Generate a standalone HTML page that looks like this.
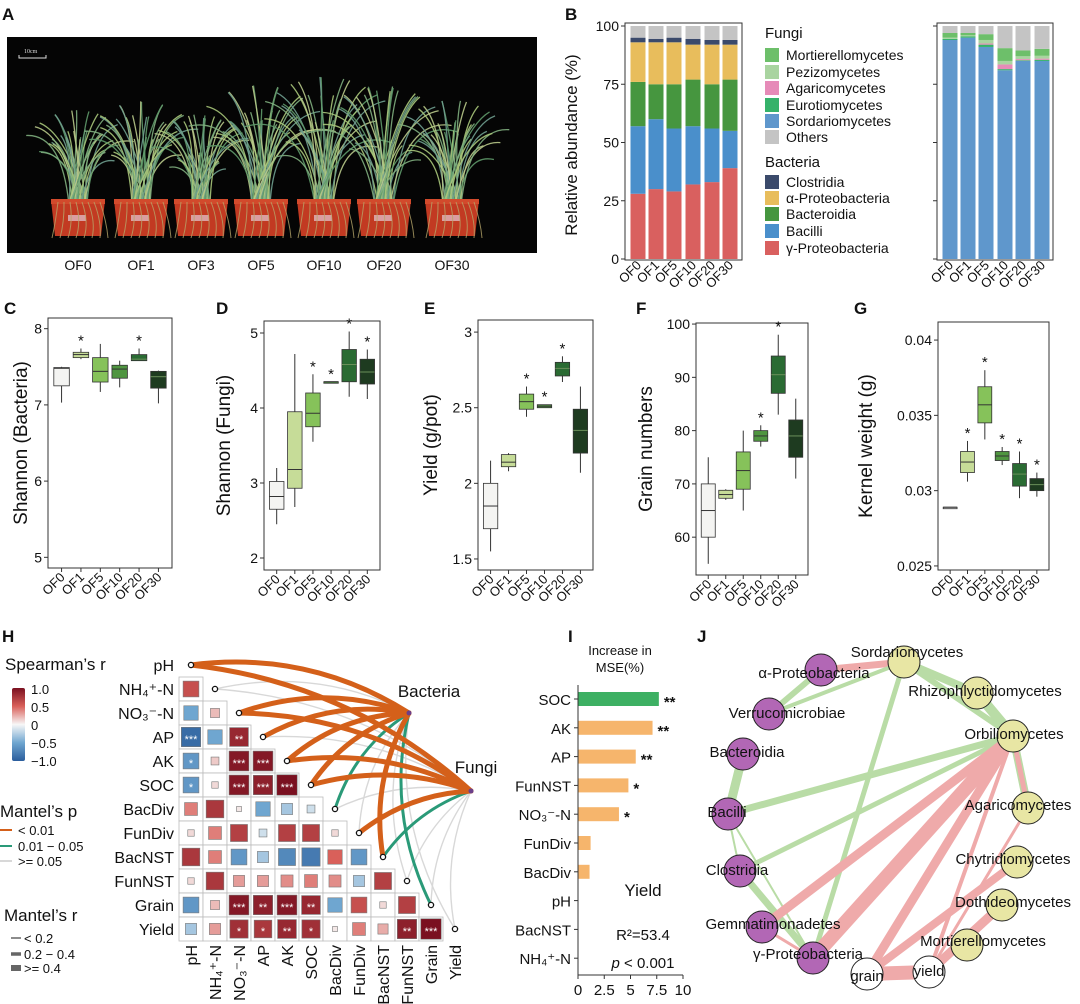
<!DOCTYPE html>
<html><head><meta charset="utf-8">
<style>
html,body{margin:0;padding:0;background:#fff;}
svg{display:block;font-family:"Liberation Sans",Arial,sans-serif;}
</style></head>
<body>
<svg id="fig" width="1080" height="1004" viewBox="0 0 1080 1004" xmlns="http://www.w3.org/2000/svg">
<defs>
<linearGradient id="rdbu" x1="0" y1="1" x2="0" y2="0">
<stop offset="0" stop-color="#2a5d9c"/><stop offset="0.25" stop-color="#6fa6d0"/><stop offset="0.5" stop-color="#f7f7f7"/><stop offset="0.75" stop-color="#d9605a"/><stop offset="1" stop-color="#7a1020"/>
</linearGradient>
</defs>
</svg>
<script>
// ---------- DATA ----------
const groupsB=['OF0','OF1','OF5','OF10','OF20','OF30'];
const bacGamma=[28,30,29,32,33,39];
const bacBacilli=[29,30,27,25,23,16];
const bacBacteroidia=[19,15,19,20,19,22];
const bacAlpha=[17,18,18,15,17,15];
const bacClost=[2,1.5,2,2.5,2,2];
const fungSord=[94,95,91,81,85,85];
const fungEuro=[0.5,0.5,1,0.5,0.3,0.5];
const fungAgar=[0,0,0.5,2,0.5,0.5];
const fungPezi=[0.5,0.5,1.5,1.5,1.2,1.2];
const fungMort=[2,1,2.5,5.5,2.5,3];
const yTicksB=[0,25,50,75,100];

// box stats: [whiskerLow, q1, median, q3, whiskerHigh]
const shannonBac=[[7.03,7.25,7.48,7.49,7.5],[7.6,7.62,7.66,7.69,7.74],[7.17,7.3,7.44,7.62,7.8],[7.23,7.35,7.47,7.52,7.58],[7.58,7.58,7.6,7.66,7.74],[7.02,7.22,7.37,7.44,7.45]];
const shannonBacStars=['','*','','','*',''];
const shannonFun=[[2.45,2.65,2.82,3.02,3.2],[2.68,2.93,3.18,3.95,4.72],[3.55,3.75,3.93,4.2,4.45],[4.35,4.35,4.35,4.35,4.35],[4.15,4.35,4.58,4.78,5.02],[4.12,4.32,4.48,4.65,4.78]];
const shannonFunStars=['','','*','*','*','*'];
const yieldBox=[[1.55,1.7,1.85,2.0,2.15],[2.08,2.11,2.14,2.19,2.2],[2.44,2.49,2.54,2.59,2.64],[2.5,2.5,2.51,2.52,2.52],[2.67,2.71,2.76,2.8,2.84],[2.07,2.2,2.35,2.49,2.64]];
const yieldStars=['','','*','*','*',''];
const grainBox=[[55,60,65,70,75],[67,67.3,68,68.8,69],[65,69,72.5,76,80],[77,78,79,80,81],[83,87,90.5,94,98],[71,75,79,82,86]];
const grainStars=['','','','*','*',''];
const kernelBox=[[0.0289,0.0289,0.0289,0.0289,0.0289],[0.0306,0.0312,0.0319,0.0326,0.0333],[0.0334,0.0345,0.0357,0.0369,0.038],[0.0317,0.032,0.0323,0.0326,0.0329],[0.0295,0.0303,0.0311,0.0318,0.0326],[0.0296,0.03,0.0304,0.0308,0.0312]];
const kernelStars=['','*','*','*','*','*'];
const ticksC=[5,6,7,8], ticksD=[2,3,4,5], ticksE=[1.5,2,2.5,3], ticksF=[60,70,80,90,100], ticksG=[0.025,0.03,0.035,0.04];

const hVars=['pH','NH₄⁺-N','NO₃⁻-N','AP','AK','SOC','BacDiv','FunDiv','BacNST','FunNST','Grain','Yield'];
const hCorr=[[],[0.6],[-0.5,0.2],[-0.9,-0.5,0.85],[-0.6,0.15,0.95,0.95],[-0.6,0.1,0.95,0.9,1.0],
[0.4,0.75,0.05,-0.5,-0.3,-0.15],[0.1,0.4,0.7,-0.15,0.7,0.7,0.1],[0.75,0.4,-0.6,-0.3,-0.7,-0.8,0.5,-0.6],
[0.1,0.75,0.3,0.3,0.35,0.4,0.35,-0.3,0.7],[-0.6,0.2,0.95,0.9,0.95,0.85,-0.5,0.6,0.1,0.7],[-0.3,0.3,0.8,0.75,0.85,0.8,0.05,0.4,0.25,0.9,1.0]];
const hStars=[[],[''],['',''],['***','','**'],['*','','***','***'],['*','','***','***','***'],
['','','','','','',''],['','','','','','','',''],['','','','','','','','',''],['','','','','','','','','',''],
['','','***','**','***','**','','','',''],['','','*','*','**','*','','','','**','***']];
const mantelBacP=[0,2,0,0,0,0,1,2,0,2,1,2];
const mantelBacR=[2,0,2,2,2,2,1,0,2,0,1,0];
const mantelFunP=[0,2,0,2,0,0,2,0,1,2,2,2];
const mantelFunR=[2,0,2,0,2,2,0,2,1,0,0,0];

const rfVars=['SOC','AK','AP','FunNST','NO₃⁻-N','FunDiv','BacDiv','pH','BacNST','NH₄⁺-N'];
const rfValues=[7.7,7.1,5.5,4.8,3.9,1.2,1.1,0,0,0];
const rfStars=['**','**','**','*','*','','','','',''];
const rfTicks=[0,2.5,5,7.5,10];

const netNodes=['Sordariomycetes','α-Proteobacteria','Rhizophlyctidomycetes','Verrucomicrobiae','Orbiliomycetes','Bacteroidia','Bacilli','Agaricomycetes','Chytridiomycetes','Clostridia','Dothideomycetes','Gemmatimonadetes','Mortierellomycetes','γ-Proteobacteria','grain','yield'];
const netTypes=['f','b','f','b','f','b','b','f','f','b','f','b','f','b','y','y'];
const netEdges=[[1,0,7,'p'],[0,2,8,'g'],[2,4,10,'g'],[0,4,6,'g'],[3,1,6,'g'],[3,0,4,'g'],[0,13,5,'g'],[4,6,7,'g'],[4,9,5,'g'],[5,6,9,'g'],[6,9,2,'g'],[9,13,7,'g'],[6,13,2,'g'],[4,7,8,'g'],
[4,11,9,'p'],[4,13,14,'p'],[4,14,9,'p'],[4,15,4,'p'],[4,7,5,'p'],[8,14,8,'p'],[10,15,9,'p'],[14,15,14,'p'],[7,15,3,'p'],[11,13,3,'p']];

// ---------- LAYOUT ----------
const svg=document.getElementById('fig');
const NS='http://www.w3.org/2000/svg';
function mk(tag,attrs,parent){const e=document.createElementNS(NS,tag);for(const k in attrs)e.setAttribute(k,attrs[k]);(parent||svg).appendChild(e);return e;}
function tx(s,x,y,attrs,parent){const e=mk('text',Object.assign({x:x,y:y,fill:'#111'},attrs||{}),parent);e.textContent=s;return e;}
const FILL6=['#f4f4f2','#c6dc98','#86c25a','#4f9540','#2a6b33','#1e3b20'];
let el;

[['A',2,20],['B',565,20],['C',4,314],['D',216,314],['E',424,314],['F',636,314],['G',854,314],['H',2,642],['I',568,642],['J',697,642]].forEach(p=>{
 el=tx(p[0],p[1],p[2],{'font-size':17,'font-weight':'bold'});
 
 
});

// ---------- Panel A ----------
const gA=mk('g',{});


mk('rect',{x:7,y:37,width:530,height:216,fill:'#050505'},gA);
mk('path',{d:'M19 55 v3 h27 v-3',stroke:'#ddd',fill:'none','stroke-width':1},gA);
tx('10cm',24,53,{'font-size':6,fill:'#ddd','font-family':'Liberation Serif, serif'},gA);
const potX=[78,141,201,261,324,384,452];
const potH=[150,160,150,175,185,180,160];
const potLabels=['OF0','OF1','OF3','OF5','OF10','OF20','OF30'];
potX.forEach((cx,i)=>{
 for(let k=0;k<36;k++){
  const a=(k/35-0.5)*1.5+Math.sin(k*7.3+i)*0.2;
  const h=(potH[i]-55)*(0.5+0.5*Math.abs(Math.cos(k*2.1+i*0.7)));
  const ex=cx+Math.sin(a)*h*0.8, ey=205-Math.cos(a)*h;
  const c=['#7fae7e','#a9c77a','#6f9f8f','#b8c98a','#5f9a6a'][(k+i)%5];
  mk('path',{d:`M${cx+(k%7-3)*3} 205 Q${cx+Math.sin(a)*h*0.25} ${205-h*0.75} ${ex} ${ey}`,stroke:c,'stroke-width':1.3,fill:'none',opacity:0.9},gA);
 }
 mk('path',{d:`M${cx-27} 200 h54 l-4 36 h-46 z`,fill:'#c23a22'},gA);
 mk('rect',{x:cx-27,y:199,width:54,height:5,fill:'#d24a2c'},gA);
 mk('rect',{x:cx-10,y:215,width:18,height:6,fill:'#e0b8c0',opacity:0.8},gA);
 for(let k=0;k<8;k++){const a=-0.3+k*0.35;mk('path',{d:`M${cx-20+k*6} 202 q${Math.sin(a)*8} 20 ${k*2-6} 36`,stroke:'#b6a66a','stroke-width':1,fill:'none',opacity:0.8},gA);}
 el=tx(potLabels[i],cx,270,{'font-size':14,'text-anchor':'middle'});
 
 
});

// ---------- Panel B ----------
function yB(v){return 259-(v/100)*233;}
function stackPlot(x0,x1,centers,layers,colors,name,labels){
 const g=mk('g',{});
 
 
 centers.forEach((cx,i)=>{
  let acc=0;
  layers.forEach((arr,li)=>{
   const v=(li===layers.length-1)?(100-acc):arr[i];
   const r=mk('rect',{x:cx-7.5,y:yB(acc+v),width:15,height:Math.max(0,yB(acc)-yB(acc+v)),fill:colors[li]},g);
   
   
   acc+=v;
  });
  const t=tx(groupsB[i],cx+4,266,{'font-size':13,'text-anchor':'end',transform:`rotate(-45 ${cx+4} 266)`},g);
  
  
 });
 mk('rect',{x:x0,y:23,width:x1-x0,height:237,fill:'none',stroke:'#333','stroke-width':1},g);
 yTicksB.forEach(v=>{
  mk('line',{x1:x0-4,x2:x0,y1:yB(v),y2:yB(v),stroke:'#333'},g);
  if(labels){const t=tx(String(v),x0-6,yB(v)+5,{'font-size':14,'text-anchor':'end'},g);
   
   }
 });
}
const bacOthers=bacGamma.map(()=>0);
stackPlot(625,742,[638,656,674,693,712,730],[bacGamma,bacBacilli,bacBacteroidia,bacAlpha,bacClost,bacOthers],['#d9605f','#4a8fcb','#46963f','#e8bd5c','#3b4a6b','#c4c4c4'],'bacteria-stacked-bars',true);
stackPlot(937,1053,[950,968,986,1005,1023,1042],[fungSord,fungEuro,fungAgar,fungPezi,fungMort,bacOthers],['#5f97cc','#35b26a','#e68bb8','#a9d4a0','#6dbf6a','#c4c4c4'],'fungi-stacked-bars',false);
el=tx('Relative abundance (%)',577,145,{'font-size':17,'text-anchor':'middle',transform:'rotate(-90 577 145)'});


const legItems=[['Fungi',33,null],['Mortierellomycetes',55,'#6dbf6a'],['Pezizomycetes',72,'#a9d4a0'],['Agaricomycetes',88,'#e68bb8'],['Eurotiomycetes',105,'#35b26a'],['Sordariomycetes',121,'#5f97cc'],['Others',137,'#c4c4c4'],
['Bacteria',162,null],['Clostridia',182,'#3b4a6b'],['α-Proteobacteria',198,'#e8bd5c'],['Bacteroidia',214,'#46963f'],['Bacilli',231,'#4a8fcb'],['γ-Proteobacteria',248,'#d9605f']];
legItems.forEach(l=>{
 if(l[2]){el=mk('rect',{x:765,y:l[1]-7,width:14,height:14,fill:l[2]});
  
  
  el=tx(l[0],786,l[1]+5,{'font-size':14});}
 else el=tx(l[0],765,l[1]+5,{'font-size':15});
 
 
});

// ---------- Boxplots C-G ----------
function boxPanel(cfg,data,stars,ticks,fmt){
 const g=mk('g',{});
 
 
 const ys=v=>cfg.y1-(v-cfg.d0)/(cfg.d1-cfg.d0)*(cfg.y1-cfg.y0);
 const w=cfg.x1-cfg.x0, sp=w/6.4;
 mk('rect',{x:cfg.x0,y:cfg.y0,width:w,height:cfg.y1-cfg.y0,fill:'none',stroke:'#333','stroke-width':1},g);
 ticks.forEach(v=>{
  mk('line',{x1:cfg.x0-4,x2:cfg.x0,y1:ys(v),y2:ys(v),stroke:'#333'},g);
  const t=tx(fmt(v),cfg.x0-6,ys(v)+5,{'font-size':14,'text-anchor':'end'},g);
  
  
 });
 data.forEach((d,i)=>{
  const cx=cfg.x0+sp*(0.7+i), bw=sp*0.8;
  mk('line',{x1:cx,x2:cx,y1:ys(d[0]),y2:ys(d[4]),stroke:'#333','stroke-width':1},g);
  const b=mk('rect',{x:cx-bw/2,y:ys(d[3]),width:bw,height:Math.max(1.5,ys(d[1])-ys(d[3])),fill:FILL6[i],stroke:'#333','stroke-width':0.8},g);
  
  
  mk('line',{x1:cx-bw/2,x2:cx+bw/2,y1:ys(d[2]),y2:ys(d[2]),stroke:i>3?'#6a8f5a':'#333','stroke-width':1},g);
  if(stars[i]){const s=tx(stars[i],cx,ys(d[4])-3,{'font-size':15,'text-anchor':'middle'},g);
   
   }
  mk('line',{x1:cx,x2:cx,y1:cfg.y1,y2:cfg.y1+4,stroke:'#333'},g);
  const t=tx(groupsB[i],cx+4,cfg.y1+10,{'font-size':13,'text-anchor':'end',transform:`rotate(-45 ${cx+4} ${cfg.y1+10})`},g);
  
  
 });
 const ty=(cfg.y0+cfg.y1)/2;
 const tt=tx(cfg.title,cfg.tx,ty,{'font-size':19,'text-anchor':'middle',transform:`rotate(-90 ${cfg.tx} ${ty})`},g);
 
 
}
const f0=v=>String(v);
boxPanel({name:'shannon-bacteria-boxplot',x0:48,x1:172,y0:318,y1:568,d0:4.86,d1:8.14,tx:27,title:'Shannon (Bacteria)'},shannonBac,shannonBacStars,ticksC,f0);
boxPanel({name:'shannon-fungi-boxplot',x0:264,x1:380,y0:321,y1:570,d0:1.84,d1:5.16,tx:230,title:'Shannon (Fungi)'},shannonFun,shannonFunStars,ticksD,f0);
boxPanel({name:'yield-boxplot',x0:478,x1:593,y0:320,y1:570,d0:1.427,d1:3.08,tx:437,title:'Yield (g/pot)'},yieldBox,yieldStars,ticksE,f0);
boxPanel({name:'grain-numbers-boxplot',x0:696,x1:808,y0:323,y1:575,d0:52.9,d1:100.2,tx:652,title:'Grain numbers'},grainBox,grainStars,ticksF,f0);
boxPanel({name:'kernel-weight-boxplot',x0:938,x1:1049,y0:322,y1:570,d0:0.02473,d1:0.0412,tx:872,title:'Kernel weight (g)'},kernelBox,kernelStars,ticksG,f0);

// ---------- Panel H ----------
const HX=179, HY=677, HC=24;
function rdbu(r){
 const stops=[[-1,[42,93,156]],[-0.5,[111,166,208]],[0,[247,247,247]],[0.5,[217,96,90]],[1,[122,16,32]]];
 for(let i=0;i<4;i++){const a=stops[i],b=stops[i+1];if(r<=b[0]){const t=(r-a[0])/(b[0]-a[0]);return 'rgb('+a[1].map((c,k)=>Math.round(c+(b[1][k]-c)*t)).join(',')+')';}}
 return 'rgb(122,16,32)';
}
const gH=mk('g',{});


const dotPos=[];
hVars.forEach((v,i)=>{
 const cy=HY+(i-1)*HC+HC/2;
 const t=tx(v,HX-5,cy+6,{'font-size':16,'text-anchor':'end'},gH);
 
 
 hCorr[i].forEach((r,j)=>{
  const x=HX+j*HC, y=HY+(i-1)*HC;
  mk('rect',{x:x,y:y,width:HC,height:HC,fill:'#fff',stroke:'#bbb','stroke-width':0.8},gH);
  const s=Math.max(5,HC*0.85*Math.sqrt(Math.abs(r)));
  const c=mk('rect',{x:x+HC/2-s/2,y:y+HC/2-s/2,width:s,height:s,fill:rdbu(r),stroke:'#777','stroke-width':0.6},gH);
  
  
  if(hStars[i][j]){const st=tx(hStars[i][j],x+HC/2,y+HC/2+6,{'font-size':11,'text-anchor':'middle',fill:'#fff'},gH);
   
   }
 });
 dotPos.push([HX+i*HC+HC/2,cy]);
 const cx=HX+i*HC+HC/2;
 const ct=tx(v,cx+6,945,{'font-size':16,'text-anchor':'end',transform:`rotate(-90 ${cx+6} 945)`},gH);
 
 
});
const bacNode=[409,713], funNode=[471,791];
const pCols=['#d4601a','#2a9a78','#d8d8d8'], rW=[1.4,3,5];
function arc(p,q,k,col,w,parent){
 const mx=(p[0]+q[0])/2, my=(p[1]+q[1])/2, dx=q[0]-p[0], dy=q[1]-p[1];
 return mk('path',{d:`M${p[0]} ${p[1]} Q${mx+dy*k} ${my-dx*k} ${q[0]} ${q[1]}`,stroke:col,'stroke-width':w,fill:'none','stroke-linecap':'round'},parent);
}
const gM=mk('g',{});


[2,1,0].forEach(cls=>{
 dotPos.forEach((p,i)=>{
  if(mantelBacP[i]===cls){el=arc(p,bacNode,0.18,pCols[cls],cls===2?1.4:rW[mantelBacR[i]],gM);
   
   }
  if(mantelFunP[i]===cls){el=arc(p,funNode,0.16,pCols[cls],cls===2?1.4:rW[mantelFunR[i]],gM);
   
   }
 });
});
dotPos.forEach(p=>{mk('circle',{cx:p[0],cy:p[1],r:2.6,fill:'#fff',stroke:'#111','stroke-width':1.3},gM);});
mk('circle',{cx:bacNode[0],cy:bacNode[1],r:2.5,fill:'#6b3f8a'},gM);
mk('circle',{cx:funNode[0],cy:funNode[1],r:2.5,fill:'#6b3f8a'},gM);
el=tx('Bacteria',429,697,{'font-size':17,'text-anchor':'middle'});


el=tx('Fungi',476,773,{'font-size':17,'text-anchor':'middle'});


el=tx('Spearman’s r',5,670,{'font-size':17});


el=mk('rect',{x:12,y:688,width:13,height:73,fill:'url(#rdbu)',rx:2});


[['1.0',689],['0.5',707],['0',725],['−0.5',743],['−1.0',761]].forEach(l=>{el=tx(l[0],31,l[1]+5,{'font-size':13});
 
 });
el=tx('Mantel’s p',0,817,{'font-size':17});


[['< 0.01',830,0],['0.01 − 0.05',846,1],['>= 0.05',861,2]].forEach(l=>{
 mk('line',{x1:0,x2:12,y1:l[1],y2:l[1],stroke:pCols[l[2]],'stroke-width':2});
 el=tx(l[0],18,l[1]+5,{'font-size':13});
 
 });
el=tx('Mantel’s r',4,921,{'font-size':17});


[['< 0.2',938,1.5],['0.2 − 0.4',954,3.5],['>= 0.4',968,6]].forEach(l=>{
 mk('line',{x1:11,x2:21,y1:l[1],y2:l[1],stroke:'#666','stroke-width':l[2]});
 el=tx(l[0],24,l[1]+5,{'font-size':13});
 
 });

// ---------- Panel I ----------
const IX0=578, IPX=10.5, IY0=699, IDY=28.8;
const gI=mk('g',{});


const xI=v=>IX0+v*IPX;
rfVars.forEach((v,i)=>{
 const y=IY0+i*IDY;
 if(rfValues[i]>0){const b=mk('rect',{x:xI(0),y:y-7,width:xI(rfValues[i])-xI(0),height:14,fill:i===0?'#3db063':'#f6b56c'},gI);
  
  }
 if(rfStars[i]){const s=tx(rfStars[i],xI(rfValues[i])+5,y+8,{'font-size':15,'font-weight':'bold'},gI);
  
  }
 mk('line',{x1:IX0-4,x2:IX0,y1:y,y2:y,stroke:'#333'},gI);
 const t=tx(v,IX0-7,y+6,{'font-size':15,'text-anchor':'end'},gI);
 
 
});
mk('line',{x1:IX0,x2:IX0,y1:685,y2:975,stroke:'#333'},gI);
mk('line',{x1:IX0,x2:xI(10),y1:975,y2:975,stroke:'#333'},gI);
rfTicks.forEach(v=>{mk('line',{x1:xI(v),x2:xI(v),y1:975,y2:979,stroke:'#333'},gI);
 const t=tx(String(v),xI(v),995,{'font-size':15,'text-anchor':'middle'},gI);
 
 });
el=tx('Increase in',620,655,{'font-size':13,'text-anchor':'middle'});


el=tx('MSE(%)',620,672,{'font-size':13,'text-anchor':'middle'});


el=tx('Yield',643,896,{'font-size':17,'text-anchor':'middle'});


el=tx('R²=53.4',643,940,{'font-size':15,'text-anchor':'middle'});


el=mk('text',{x:643,y:968,'font-size':15,'text-anchor':'middle',fill:'#111'});
el.innerHTML='<tspan font-style="italic">p</tspan> &lt; 0.001';



// ---------- Panel J ----------
const nodeXY=[[904,662],[821,670],[977,693],[769,714],[1013,736],[743,754],[728,814],[1028,808],[1017,862],[740,871],[1002,905],[762,927],[967,945],[813,958],[867,974],[929,972]];
const labXY=[[907,657],[814,678],[985,696],[787,718],[1014,739],[747,757],[727,817],[1018,810],[1013,864],[737,875],[1013,907],[773,929],[983,946],[808,959],[867,981],[929,976]];
const gJ=mk('g',{});


netEdges.forEach(e=>{
 const a=nodeXY[e[0]], b=nodeXY[e[1]];
 const l=mk('line',{x1:a[0],y1:a[1],x2:b[0],y2:b[1],stroke:e[3]==='g'?'#b9dca6':'#efaaaa','stroke-width':e[2],'stroke-linecap':'round'},gJ);
 
 
});
netNodes.forEach((n,i)=>{
 const c=mk('circle',{cx:nodeXY[i][0],cy:nodeXY[i][1],r:16,fill:netTypes[i]==='b'?'#b267b5':(netTypes[i]==='f'?'#e8e6a4':'#fff'),stroke:'#222','stroke-width':1},gJ);
 
 
});
netNodes.forEach((n,i)=>{
 const t=tx(n,labXY[i][0],labXY[i][1],{'font-size':15,'text-anchor':'middle'},gJ);
 
 
});
</script>
</body></html>
